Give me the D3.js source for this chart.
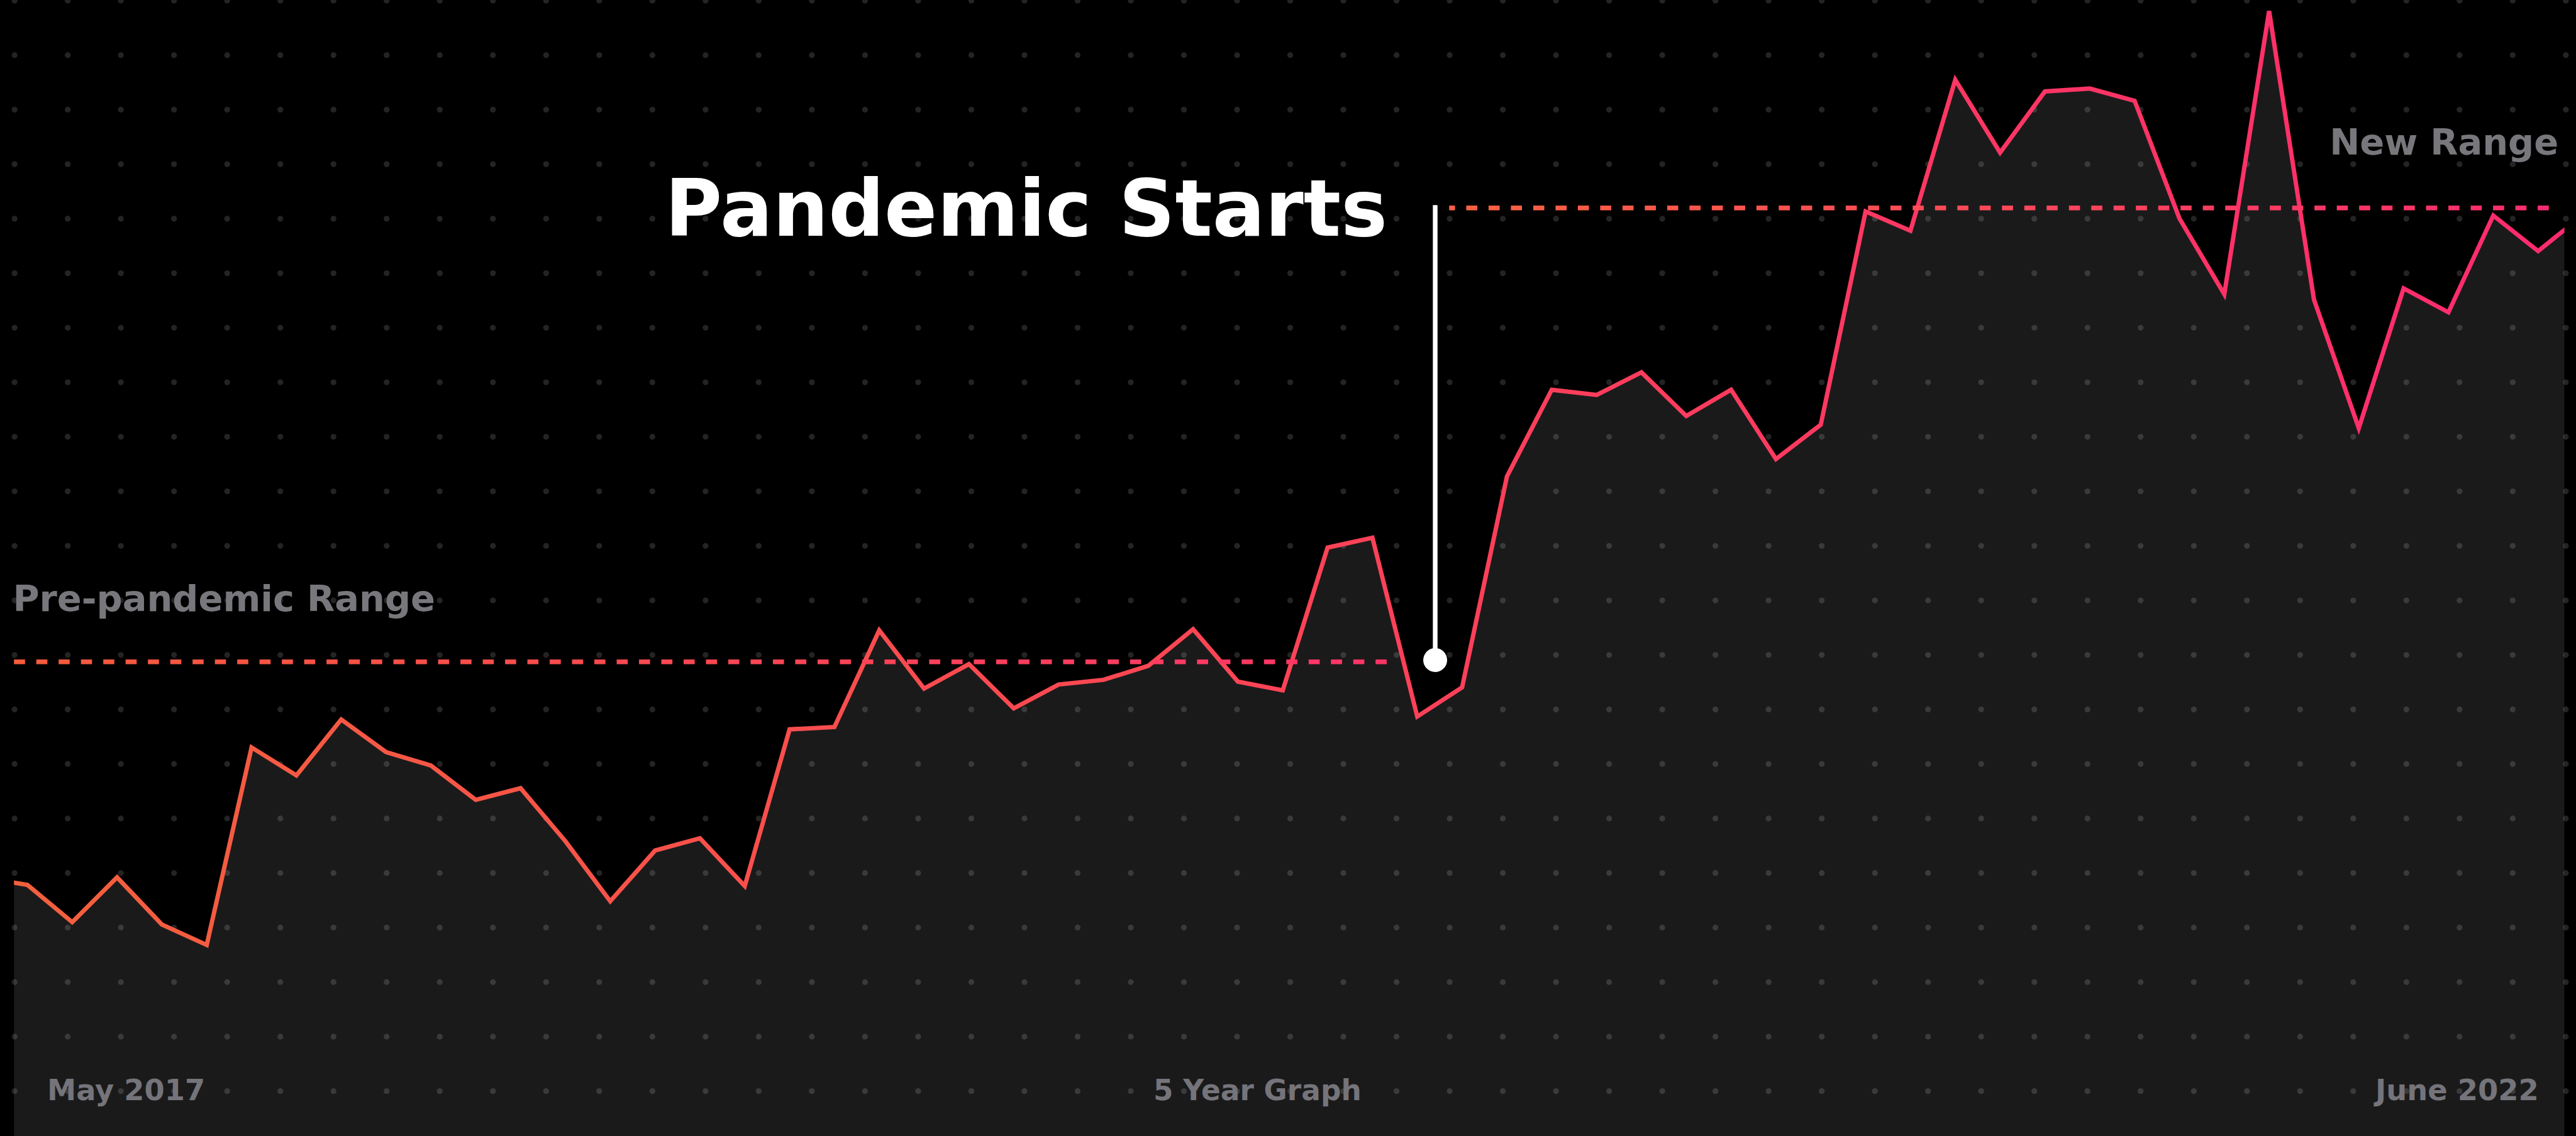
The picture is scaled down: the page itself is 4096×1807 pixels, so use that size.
<!DOCTYPE html>
<html>
<head>
<meta charset="utf-8" />
<title>5 Year Graph</title>
<style>
html, body {
    margin: 0px;
    padding: 0px;
    background: #000;
    overflow: hidden;
}
text {
    font-family: "DejaVu Sans", sans-serif;
    font-weight: bold;
}
</style>
</head>
<body>
<div id="chart"></div>

<script src="https://cdn.jsdelivr.net/npm/d3@7"></script>
<script>
!(function(){
    "use strict"

    // monthly values (index 0 sits just outside the left edge)
    var values = [
        44.4, 43.1, 36.7, 44.4, 36.3, 32.8, 66.7, 61.9, 71.5, 65.9,
        63.6, 57.7, 59.7, 50.6, 40.3, 49.0, 51.1, 42.9, 69.8, 70.2,
        86.8, 76.8, 81.0, 73.4, 77.5, 78.3, 80.7, 87.0, 78.0, 76.5,
        101.0, 102.7, 72.0, 77.0, 113.2, 128.1, 127.2, 131.1, 123.6, 128.1,
        116.2, 122.1, 158.7, 155.4, 181.3, 168.8, 179.3, 179.8, 177.7, 157.5,
        144.5, 193.1, 143.6, 121.5, 145.5, 141.4, 158.0, 151.9, 158.1
    ];
    var ranges = [81.4, 159.3];                 // pre-pandemic level, new level
    var rangeLabels = ["Pre-pandemic Range", "New Range"];
    var pandemicMonth = 32.4;
    var title = "Pandemic Starts";
    var bottomLabels = ["May 2017", "5 Year Graph", "June 2022"];

    var W = 4420, H = 1950;
    var left = 24, right = 4400;

    var svg = d3.select("#chart").append("svg")
        .attr("width", 4096)
        .attr("height", 1807)
        .attr("viewBox", "0 0 " + W + " " + H)
        .attr("preserveAspectRatio", "none")
        .style("display", "block");

    var x = d3.scaleLinear().domain([1, 57]).range([47, 4355]);
    var y = d3.scaleLinear().domain([0, 195]).range([H, 0]);

    var defs = svg.append("defs");

    defs.append("clipPath").attr("id", "plot")
        .append("rect")
        .attr("x", left).attr("y", 0)
        .attr("width", right - left).attr("height", H);

    function gradient(id, x1, x2, stops) {
        var g = defs.append("linearGradient")
            .attr("id", id)
            .attr("gradientUnits", "userSpaceOnUse")
            .attr("x1", x1).attr("x2", x2)
            .attr("y1", 0).attr("y2", 0);
        g.selectAll("stop").data(stops).enter().append("stop")
            .attr("offset", function(d){ return d[0] })
            .attr("stop-color", function(d){ return d[1] });
    }

    var px = x(pandemicMonth);
    var preEnd = px - 77, newStart = px + 24, newEnd = 4389;

    gradient("lineGrad", left, right, [[0, "#f3603d"], [0.5, "#fd4356"], [1, "#ff2b6e"]]);
    gradient("preGrad", left, preEnd, [[0, "#f55b3c"], [1, "#ff3468"]]);
    gradient("newGrad", newStart, newEnd, [[0, "#ff6243"], [1, "#ff2d6e"]]);

    svg.append("rect")
        .attr("width", W).attr("height", H)
        .attr("fill", "#000");

    var plot = svg.append("g").attr("clip-path", "url(#plot)");

    var area = d3.area()
        .x(function(d, i){ return x(i) })
        .y0(H)
        .y1(function(d){ return y(d) });

    var line = d3.line()
        .x(function(d, i){ return x(i) })
        .y(function(d){ return y(d) });

    plot.append("path")
        .datum(values)
        .attr("d", area)
        .attr("fill", "#1a1a1b");

    // dot grid
    var cols = d3.range(0, 49), rows = d3.range(0, 21);
    var grid = [];
    rows.forEach(function(r){
        cols.forEach(function(c){ grid.push([25 + c * 91.2, 1 + r * 93.6]) });
    });
    svg.append("g")
        .selectAll("circle")
        .data(grid)
        .enter()
        .append("circle")
        .attr("cx", function(d){ return d[0] })
        .attr("cy", function(d){ return d[1] })
        .attr("r", 5)
        .attr("fill", "#fff")
        .attr("fill-opacity", 0.14);

    svg.append("g").attr("clip-path", "url(#plot)")
        .append("path")
        .datum(values)
        .attr("d", line)
        .attr("fill", "none")
        .attr("stroke", "url(#lineGrad)")
        .attr("stroke-width", 7.5)
        .attr("stroke-linejoin", "miter");

    // range lines
    svg.append("line")
        .attr("x1", left).attr("x2", preEnd)
        .attr("y1", y(ranges[0])).attr("y2", y(ranges[0]))
        .attr("stroke", "url(#preGrad)")
        .attr("stroke-width", 8)
        .attr("stroke-dasharray", "19 19.3");

    svg.append("line")
        .attr("x1", newStart).attr("x2", newEnd)
        .attr("y1", y(ranges[1])).attr("y2", y(ranges[1]))
        .attr("stroke", "url(#newGrad)")
        .attr("stroke-width", 8)
        .attr("stroke-dasharray", "19 19.3")
        .attr("stroke-dashoffset", 9);

    // pandemic marker
    svg.append("line")
        .attr("x1", px).attr("x2", px)
        .attr("y1", y(ranges[1]) - 5).attr("y2", y(ranges[0]))
        .attr("stroke", "#fff")
        .attr("stroke-width", 8);

    svg.append("circle")
        .attr("cx", px).attr("cy", y(ranges[0]) - 3)
        .attr("r", 20.5)
        .attr("fill", "#fff");

    function label(txt, xx, yy, size, color, anchor) {
        svg.append("text")
            .attr("x", xx).attr("y", yy)
            .attr("font-size", size)
            .attr("fill", color)
            .attr("text-anchor", anchor || "start")
            .text(txt);
    }

    label(title, 1141, 405, 134, "#fff");
    label(rangeLabels[0], 22, 1049, 62, "#78777c");
    label(rangeLabels[1], 4390, 266, 62, "#78777c", "end");
    label(bottomLabels[0], 81, 1889, 50, "#75747a");
    label(bottomLabels[1], 1979, 1889, 49, "#75747a");
    label(bottomLabels[2], 4356, 1889, 50, "#75747a", "end");

}());
</script>
</body>
</html>
